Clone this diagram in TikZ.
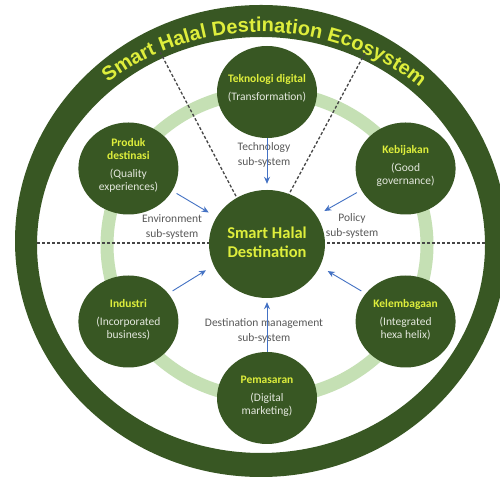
\documentclass[tikz,border=0pt]{standalone}
\usepackage{fontspec}
\setmainfont{Carlito}
\newfontfamily\arcfont{Liberation Sans}
\usetikzlibrary{shapes.geometric,arrows.meta,decorations.text}
\definecolor{dgreen}{RGB}{56,87,35}
\definecolor{lgreen}{RGB}{197,224,180}
\definecolor{ylw}{RGB}{222,238,60}
\definecolor{subc}{RGB}{228,232,222}
\definecolor{lblc}{RGB}{89,89,89}
\definecolor{arrc}{RGB}{68,114,196}
\definecolor{dashc}{RGB}{70,70,70}
\newcommand{\sattl}[1]{\textcolor{ylw}{\bfseries #1}}
\begin{document}
\begin{tikzpicture}[x=1pt,y=1pt,
  sat/.style={ellipse, fill=dgreen, minimum width=100pt, minimum height=92pt, inner sep=0pt},
  hub/.style={ellipse, fill=dgreen, minimum width=116pt, minimum height=108pt, inner sep=0pt},
  sattext/.style={align=center, font=\fontsize{11.5}{13}\selectfont, text=subc, inner sep=0pt},
  lbl/.style={align=center, font=\fontsize{11.5}{15}\selectfont, text=lblc, inner sep=0pt},
  sep/.style={dashc, line width=1.3pt, dash pattern=on 3pt off 2pt},
  flow/.style={arrc, line width=0.9pt, -{Stealth[length=7pt,width=6pt]}},
]
\useasboundingbox (0,0) rectangle (500,481);
\clip (0,0) rectangle (500,481);
\fill[white] (0,0) rectangle (500,481);
% outer ring
\fill[dgreen, even odd rule] (261,240) ellipse[x radius=246pt, y radius=236pt]
  (261,236) ellipse[x radius=224pt, y radius=208pt];
\path[decorate, decoration={text along path, text align=center, text color=ylw,
  text={|\arcfont\bfseries\fontsize{20}{20}\selectfont|Smart Halal Destination Ecosystem}}]
  (261,236) ++(150:236pt and 213pt) arc[start angle=150, end angle=28, x radius=236pt, y radius=213pt];
% light ring
\draw[lgreen, line width=13pt] (267,236) ellipse[x radius=160pt, y radius=153pt];
% separators
\coordinate (hl) at (37,238);
\coordinate (hr) at (485,238);
\coordinate (dl1) at (160,429);
\coordinate (dl2) at (238,281);
\coordinate (dr1) at (365,428);
\coordinate (dr2) at (288,285);
\draw[sep] (hl) -- (hr);
\draw[sep] (dl1) -- (dl2);
\draw[sep] (dr1) -- (dr2);
% circles
\node[hub] (C) at (267,237) {};
\node[sat] (tek) at (267,389) {};
\node[sat] (prod) at (128.4,312.5) {};
\node[sat] (keb) at (405.6,312.5) {};
\node[sat] (ind) at (128.4,159.5) {};
\node[sat] (kel) at (405.6,159.5) {};
\node[sat] (pem) at (267,83) {};
% texts in circles
\node[align=center, font=\fontsize{16.5}{19.5}\selectfont\bfseries, text=ylw, inner sep=0pt]
  (CT) at ([yshift=1.5pt]C.center) {Smart Halal\\Destination};
\node[sattext] (tekT) at ([yshift=4pt]tek.center) {\sattl{Teknologi digital}\\[5pt](Transformation)};
\node[sattext] (prodT) at ([yshift=3pt]prod.center) {\sattl{Produk}\\\sattl{destinasi}\\[5pt](Quality\\experiences)};
\node[sattext] (kebT) at ([yshift=3pt]keb.center) {\sattl{Kebijakan}\\[5pt](Good\\governance)};
\node[sattext] (indT) at ([yshift=2pt]ind.center) {\sattl{Industri}\\[5pt](Incorporated\\business)};
\node[sattext] (kelT) at ([yshift=1.5pt]kel.center) {\sattl{Kelembagaan}\\[5pt](Integrated\\hexa helix)};
\node[sattext] (pemT) at ([yshift=1.5pt]pem.center) {\sattl{Pemasaran}\\[5pt](Digital\\marketing)};
% sub-system labels
\node[lbl] (ltech) at (264,326.5) {Technology\\sub-system};
\node[lbl] (lenv) at (172,254.5) {Environment\\sub-system};
\node[lbl] (lpol) at (352,255) {Policy\\sub-system};
\node[lbl] (ldm) at (264,150) {Destination management\\sub-system};
% arrows
\draw[flow, shorten >=6pt] (tek) -- (C);
\draw[flow, shorten >=4pt] (pem) -- (C);
\draw[flow, shorten <=5pt, shorten >=9pt] (prod.-27) -- (C.152);
\draw[flow, shorten <=5pt, shorten >=9pt] (keb.206) -- (C.30);
\draw[flow, shorten <=5pt, shorten >=9pt] (ind.35) -- (C.202);
\draw[flow, shorten <=5pt, shorten >=9pt] (kel.145) -- (C.-23);
\end{tikzpicture}
\end{document}
